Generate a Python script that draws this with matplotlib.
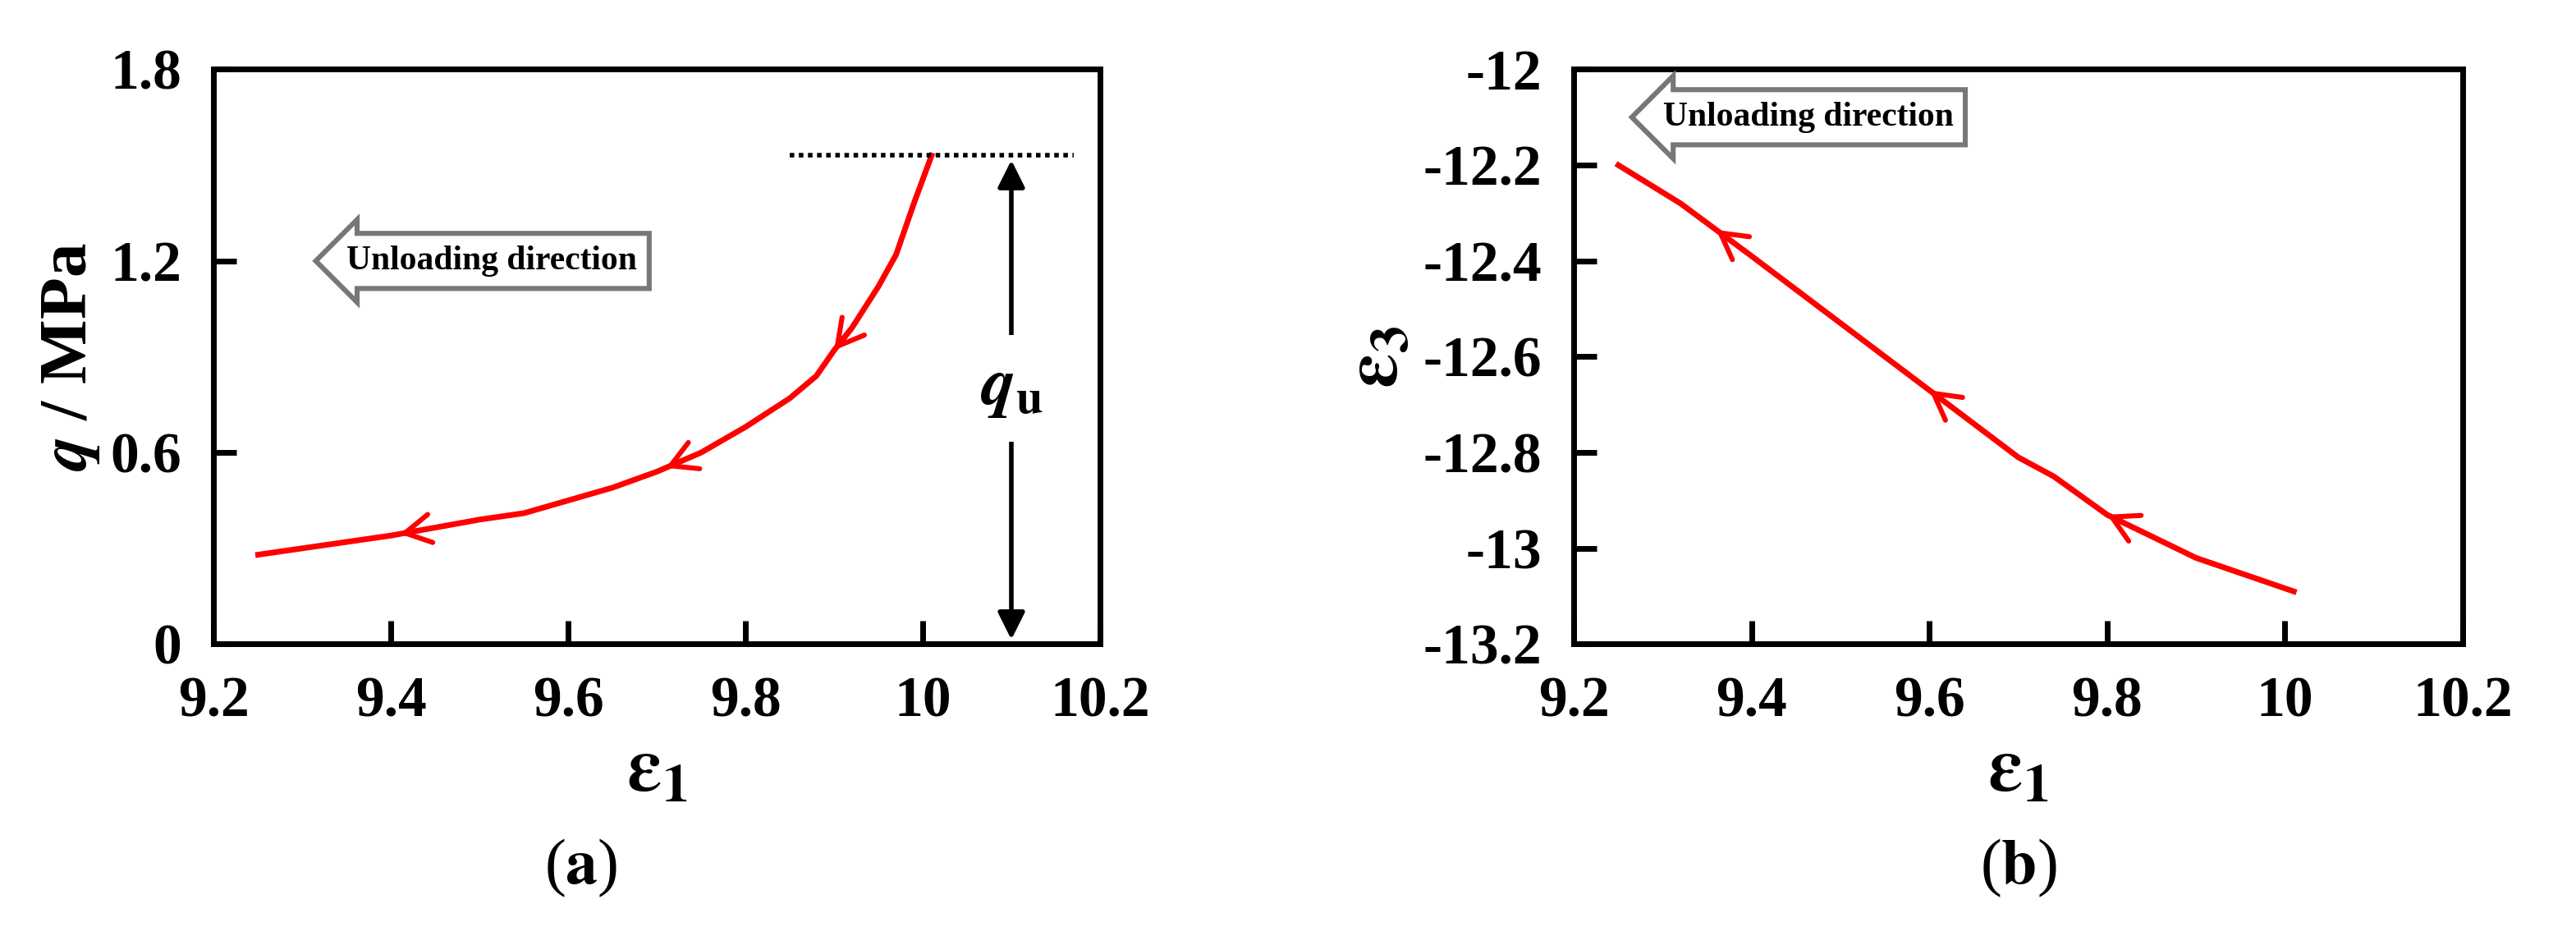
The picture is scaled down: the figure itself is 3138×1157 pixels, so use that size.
import matplotlib
matplotlib.use("Agg")
import matplotlib.pyplot as plt
import numpy as np

# panel (a): deviator stress vs axial strain during unloading
eps1_a = [9.25, 9.3, 9.4, 9.5, 9.55, 9.6, 9.65, 9.7, 9.75, 9.8, 9.85, 9.88, 9.9, 9.92, 9.95, 9.97, 9.99, 10.01]
q_a = [0.28, 0.30, 0.34, 0.39, 0.41, 0.45, 0.49, 0.54, 0.60, 0.68, 0.77, 0.84, 0.92, 0.99, 1.12, 1.22, 1.38, 1.53]
q_u = 1.53
# panel (b): lateral strain vs axial strain
eps1_b = [9.25, 9.32, 9.4, 9.5, 9.55, 9.6, 9.7, 9.74, 9.8, 9.9, 10.01]
eps3_b = [-12.2, -12.28, -12.39, -12.53, -12.6, -12.67, -12.81, -12.85, -12.93, -13.02, -13.09]

plt.rcParams.update({"font.family": "Liberation Serif", "font.weight": "bold",
                     "font.size": 25, "axes.linewidth": 2.5,
                     "mathtext.fontset": "stix"})

fig = plt.figure(figsize=(15.69, 5.785), dpi=200)
ax1 = fig.add_axes([0.083, 0.322, 0.344, 0.605])
ax2 = fig.add_axes([0.611, 0.322, 0.345, 0.605])

def direction_arrows(ax, xs, ys, at):
    for x0 in at:
        y0 = np.interp(x0, xs, ys)
        y1 = np.interp(x0 - 0.02, xs, ys)
        ax.annotate("", xy=(x0 - 0.02, y1), xytext=(x0, y0),
                    arrowprops=dict(arrowstyle="->,head_length=0.45,head_width=0.25",
                                    color="red", lw=2.2, shrinkA=0, shrinkB=0))

def unloading(ax, x, y):
    ax.text(x, y, "Unloading direction", fontsize=15, ha="left", va="center",
            bbox=dict(boxstyle="larrow,pad=0.35", fc="white", ec="#777777", lw=2.2))

ax1.plot(eps1_a, q_a, color="red", lw=2.5)
direction_arrows(ax1, eps1_a, q_a, [9.92, 9.73, 9.43])
ax1.plot([9.85, 10.17], [q_u, q_u], color="black", lw=2, ls=(0, (1, 1)))
ax1.annotate("", xy=(10.1, 0), xytext=(10.1, 0.85), arrowprops=dict(arrowstyle="-|>", color="black", lw=2))
ax1.annotate("", xy=(10.1, q_u), xytext=(10.1, 0.75), arrowprops=dict(arrowstyle="-|>", color="black", lw=2))
ax1.text(10.1, 0.8, r"$\boldsymbol{q}_{\mathbf{u}}$", ha="center", va="center", fontsize=30,
         bbox=dict(fc="white", ec="none", pad=10))
unloading(ax1, 9.35, 1.2)
ax1.set_xlim(9.2, 10.2)
ax1.set_ylim(0, 1.8)
ax1.set_xticks(np.arange(9.2, 10.21, 0.2))
ax1.set_xticklabels(["9.2", "9.4", "9.6", "9.8", "10", "10.2"])
ax1.set_yticks([0, 0.6, 1.2, 1.8])
ax1.set_yticklabels(["0", "0.6", "1.2", "1.8"])
ax1.set_ylabel(r"$\boldsymbol{q}$ / MPa", fontsize=30, fontweight="bold")
ax1.set_xlabel(r"$\boldsymbol{\varepsilon}_{\mathbf{1}}$", fontsize=34)

ax2.plot(eps1_b, eps3_b, color="red", lw=2.5)
direction_arrows(ax2, eps1_b, eps3_b, [9.38, 9.62, 9.82])
unloading(ax2, 9.3, -12.1)
ax2.set_xlim(9.2, 10.2)
ax2.set_ylim(-13.2, -12)
ax2.set_xticks(np.arange(9.2, 10.21, 0.2))
ax2.set_xticklabels(["9.2", "9.4", "9.6", "9.8", "10", "10.2"])
ax2.set_yticks(np.arange(-13.2, -11.99, 0.2))
ax2.set_yticklabels(["-13.2", "-13", "-12.8", "-12.6", "-12.4", "-12.2", "-12"])
ax2.set_ylabel(r"$\boldsymbol{\varepsilon}_{\mathbf{3}}$", fontsize=34)
ax2.set_xlabel(r"$\boldsymbol{\varepsilon}_{\mathbf{1}}$", fontsize=34)

for ax in (ax1, ax2):
    ax.tick_params(direction="in", length=10, width=2.5, pad=14, labelsize=25)
    for lab in ax.get_xticklabels() + ax.get_yticklabels():
        lab.set_fontweight("bold")

fig.text(0.2255, 0.07, r"($\mathbf{a}$)", ha="center", fontsize=28, fontweight="normal")
fig.text(0.7835, 0.07, r"($\mathbf{b}$)", ha="center", fontsize=28, fontweight="normal")
fig.savefig("out.png")
